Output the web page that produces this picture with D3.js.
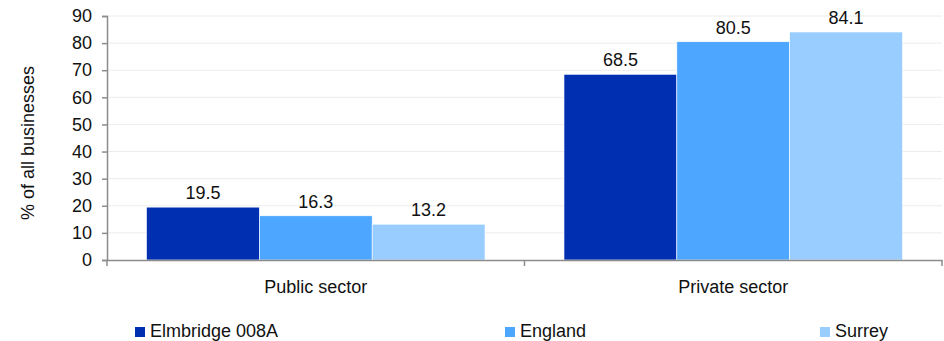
<!DOCTYPE html>
<html><head><meta charset="utf-8">
<script src="https://cdn.jsdelivr.net/npm/d3@7"></script>
<style>body{margin:0;background:#fff;} text{font-family:"Liberation Sans",Arial,sans-serif;}</style>
</head><body><svg id="c" width="944" height="341"></svg>
<script>
const categories = ["Public sector", "Private sector"];
const seriesNames = ["Elmbridge 008A", "England", "Surrey"];
const elmbridge = [19.5, 68.5];
const england = [16.3, 80.5];
const surrey = [13.2, 84.1];
const yTicks = [0,10,20,30,40,50,60,70,80,90];
const colors = ["#002fb2", "#4da6ff", "#99ccff"];

(function(){
const values = [elmbridge, england, surrey];
const svg = d3.select("#c");
const mLeft = 107, mRight = 942, mTop = 16, mBottom = 260;
const FS = 18;
const x = d3.scaleBand().domain(categories).range([mLeft, mRight]).paddingInner(0).paddingOuter(0);
const xs = d3.scaleBand().domain(seriesNames).range([0, x.bandwidth()]).paddingOuter(0.35).paddingInner(0);
const y = d3.scaleLinear().domain([0, 90]).range([mBottom, mTop]);

svg.append("g").selectAll("line").data(yTicks.slice(1)).join("line")
  .attr("x1", mLeft).attr("x2", mRight).attr("y1", d=>y(d)).attr("y2", d=>y(d))
  .attr("stroke", "#ececec").attr("stroke-width", 1);

seriesNames.forEach((s, si) => {
  const g = svg.append("g");
  g.selectAll("rect").data(categories).join("rect")
    .attr("x", c => x(c) + xs(s))
    .attr("width", xs.bandwidth())
    .attr("y", (c, i) => y(values[si][i]))
    .attr("height", (c, i) => y(0) - y(values[si][i]))
    .attr("fill", colors[si])
    .attr("stroke", "#ffffff").attr("stroke-width", 0.6);
  g.selectAll("text").data(categories).join("text")
    .attr("x", c => x(c) + xs(s) + xs.bandwidth()/2)
    .attr("y", (c, i) => y(values[si][i]) - 8)
    .attr("text-anchor", "middle").attr("font-size", FS).attr("fill", "#111")
    .text((c, i) => values[si][i].toFixed(1));
});

const ya = svg.append("g").attr("transform", `translate(${mLeft},0)`)
  .call(d3.axisLeft(y).tickValues(yTicks).tickSize(5).tickPadding(10));
ya.select(".domain").attr("stroke", "#8c8c8c").attr("stroke-width", 1.5);
ya.selectAll(".tick line").attr("stroke", "#8c8c8c").attr("stroke-width", 1.5);
ya.selectAll(".tick text").attr("font-size", FS).attr("fill", "#111").attr("font-family", "Liberation Sans, Arial, sans-serif");

const xa = svg.append("g").attr("transform", `translate(0,${mBottom})`)
  .call(d3.axisBottom(x).tickSize(0).tickPadding(20));
xa.select(".domain").attr("stroke", "#8c8c8c").attr("stroke-width", 1.5);
xa.selectAll(".tick text").attr("font-size", FS).attr("fill", "#111").attr("font-family", "Liberation Sans, Arial, sans-serif");
const bounds = [mLeft, x(categories[1]), mRight];
svg.append("g").selectAll("line").data(bounds).join("line")
  .attr("x1", d=>d).attr("x2", d=>d).attr("y1", mBottom).attr("y2", mBottom+6)
  .attr("stroke", "#8c8c8c").attr("stroke-width", 1.5);

svg.append("text").attr("transform", "translate(34,143) rotate(-90)")
  .attr("text-anchor", "middle").attr("font-size", FS).attr("fill", "#111")
  .text("% of all businesses");

const legX = [135, 505, 820];
const lg = svg.append("g");
seriesNames.forEach((s, i) => {
  lg.append("rect").attr("x", legX[i]).attr("y", 327).attr("width", 10).attr("height", 10).attr("fill", colors[i]);
  lg.append("text").attr("x", legX[i] + 15).attr("y", 337).attr("font-size", FS).attr("fill", "#111").text(s);
});
})();
</script></body></html>
